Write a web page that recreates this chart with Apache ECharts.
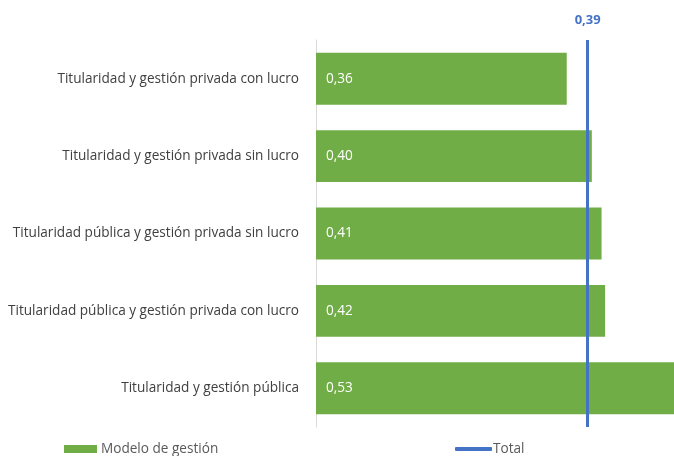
<!DOCTYPE html>
<html>
<head>
<meta charset="utf-8">
<script src="https://cdn.jsdelivr.net/npm/echarts@6/dist/echarts.min.js"></script>
<style>
  html, body { margin: 0; padding: 0; background: #fff; }
  #chart { width: 674px; height: 456px; }
</style>
</head>
<body>
<div id="chart"></div>
<script>
// categories, top to bottom
var categories = [
    'Titularidad y gestión privada con lucro',
    'Titularidad y gestión privada sin lucro',
    'Titularidad pública y gestión privada sin lucro',
    'Titularidad pública y gestión privada con lucro',
    'Titularidad y gestión pública'
];
// modelo de gestión values
var modeloValues = [0.36, 0.396, 0.41, 0.4151, 0.53];
// total reference line
var totalValue = 0.392;

function fmt(v) {
    return v.toFixed(2).replace('.', ',');
}

var chart = echarts.init(document.getElementById('chart'));

var font = '"Open Sans", sans-serif';
var fs = 13.6;

var option = {
    animation: false,
    textStyle: { fontFamily: font },
    grid: {
        left: 316,
        right: 0,
        top: 40,
        height: 387,
        containLabel: false
    },
    legend: [
        {
            left: 64,
            top: 442,
            padding: 0,
            itemWidth: 33,
            itemHeight: 8,
            textStyle: { color: '#595959', fontSize: fs, fontFamily: font, padding: [0, 0, 0, -1] },
            data: [{ name: 'Modelo de gestión', icon: 'rect' }]
        },
        {
            left: 455,
            top: 442,
            padding: 0,
            itemWidth: 37,
            itemHeight: 4,
            textStyle: { color: '#595959', fontSize: fs, fontFamily: font, padding: [0, 0, 0, -4] },
            data: [{ name: 'Total', icon: 'roundRect' }]
        }
    ],
    xAxis: {
        type: 'value',
        min: 0,
        max: 0.514,
        axisLine: { show: false },
        axisTick: { show: false },
        axisLabel: { show: false },
        splitLine: { show: false }
    },
    yAxis: {
        type: 'category',
        inverse: true,
        data: categories,
        axisLine: { show: true, lineStyle: { color: '#d9d9d9', width: 1 } },
        axisTick: { show: false },
        axisLabel: {
            color: '#404040',
            fontSize: fs,
            margin: 17,
            fontFamily: font
        }
    },
    series: [
        {
            name: 'Modelo de gestión',
            type: 'bar',
            data: modeloValues,
            barCategoryGap: '33%',
            itemStyle: { color: '#70ad47' },
            label: {
                show: true,
                position: 'insideLeft',
                distance: 10,
                color: '#fff',
                fontSize: fs,
                fontFamily: font,
                formatter: function (p) { return fmt(p.value); }
            }
        },
        {
            name: 'Total',
            type: 'line',
            data: [],
            itemStyle: { color: '#4472c4' },
            lineStyle: { color: '#4472c4', width: 3 },
            markLine: {
                silent: true,
                symbol: ['none', 'none'],
                lineStyle: { color: '#4472c4', width: 3, type: 'solid' },
                label: {
                    show: true,
                    position: 'start',
                    distance: 13,
                    color: '#4472c4',
                    fontWeight: 'bold',
                    fontSize: 13,
                    fontFamily: font,
                    formatter: function (p) { return fmt(p.value); }
                },
                data: [{ xAxis: totalValue }]
            }
        }
    ]
};

chart.setOption(option);
</script>
</body>
</html>
